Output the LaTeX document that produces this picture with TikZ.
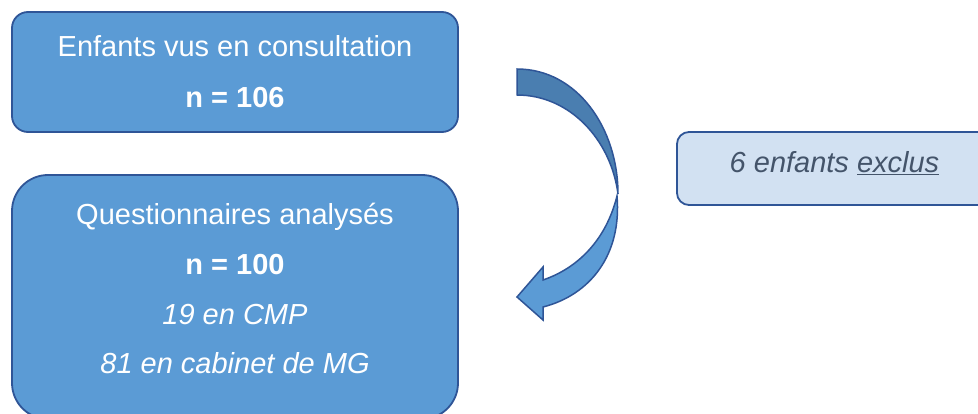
\documentclass[tikz,border=0pt]{standalone}
\usepackage{fontspec}
\setmainfont{Liberation Sans}
\definecolor{boxfill}{HTML}{5B9BD5}
\definecolor{boxline}{HTML}{2F5597}
\definecolor{lightfill}{HTML}{D2E1F2}
\definecolor{darkarrow}{HTML}{4A7EB0}
\definecolor{graytext}{HTML}{44546A}
\tikzset{
  mainbox/.style={draw=boxline, fill=boxfill, line width=1.8pt, rectangle, inner sep=0pt},
  sidebox/.style={draw=boxline, fill=lightfill, line width=1.8pt, rectangle, inner sep=0pt, rounded corners=12pt},
  wtext/.style={text=white, anchor=base, inner sep=0pt, font=\fontsize{29}{35}\selectfont},
  gtext/.style={text=graytext, anchor=base, inner sep=0pt, font=\fontsize{29}{35}\selectfont\itshape},
  arrowpart/.style={draw=boxline, line width=1.5pt, line join=miter}
}
\begin{document}
\begin{tikzpicture}[x=1pt,y=-1pt]
\useasboundingbox (0,0) rectangle (978,414);
\clip (0,0) rectangle (978,414);
\fill[white] (0,0) rectangle (978,414);
% boxes
\node[mainbox, rounded corners=16pt, minimum width=446pt, minimum height=120pt] (b1) at (235,72) {};
\node[mainbox, rounded corners=36pt, minimum width=446pt, minimum height=244pt] (b2) at (235,297) {};
\node[sidebox, minimum width=320pt, minimum height=73pt] (b3) at (837,168.5) {};
% texts
\node[wtext] (t1) at (235,57) {Enfants vus en consultation};
\node[wtext, font=\fontsize{29}{35}\selectfont\bfseries] (t2) at (235,108) {n = 106};
\node[wtext] (t3) at (235,225) {Questionnaires analysés};
\node[wtext, font=\fontsize{29}{35}\selectfont\bfseries] (t4) at (235,275) {n = 100};
\node[wtext, font=\fontsize{29}{35}\selectfont\itshape] (t5) at (235,325) {19 en CMP};
\node[wtext, font=\fontsize{29}{35}\selectfont\itshape] (t6) at (235,373) {81 en cabinet de MG};
\node[gtext] (t7) at (834.5,173) {6 enfants \underline{exclus}};
% curved arrow
\path[arrowpart, fill=darkarrow] (517,69) .. controls (577,69) and (618,128) .. (618,194)
  .. controls (611,140) and (570,95) .. (517,95) -- cycle;
\path[arrowpart, fill=boxfill] (617,196) .. controls (622,255) and (590,295) .. (543,307)
  -- (543,320) -- (517,297) -- (543,267) -- (543,280)
  .. controls (578,268) and (606,240) .. (617,196) -- cycle;
\end{tikzpicture}
\end{document}
